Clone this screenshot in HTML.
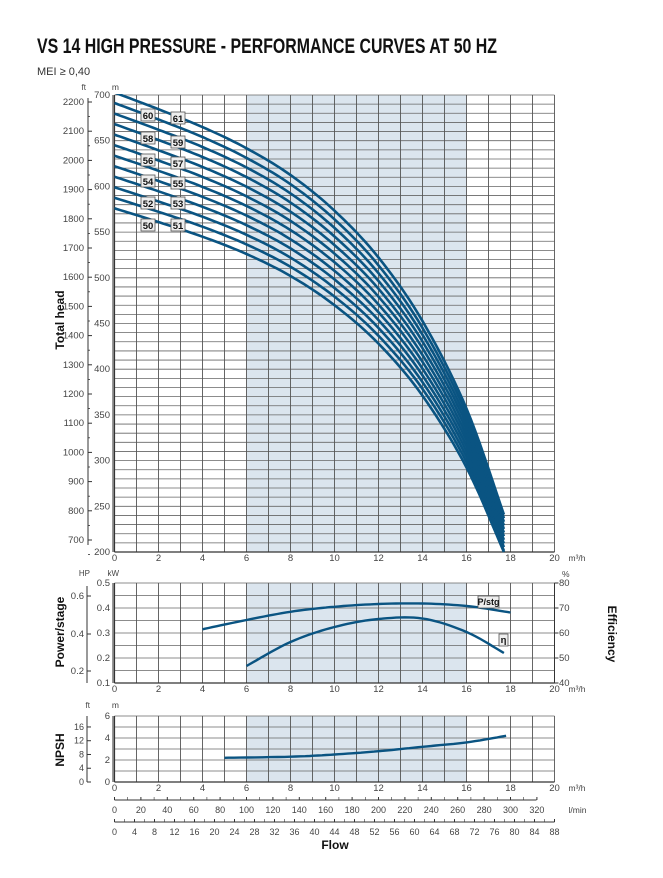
<!DOCTYPE html><html><head><style>body{margin:0;background:#fff}svg{display:block}text{font-family:"Liberation Sans",sans-serif}</style></head><body>
<svg id="s" width="663" height="878" viewBox="0 0 663 878" xmlns="http://www.w3.org/2000/svg">
<text x="37" y="53" font-size="21" font-weight="bold" textLength="460" lengthAdjust="spacingAndGlyphs" fill="#111">VS 14 HIGH PRESSURE - PERFORMANCE CURVES AT 50 HZ</text>
<text x="37" y="75" font-size="11" fill="#333">MEI ≥ 0,40</text>
<g id="g"></g>
</svg>
<script>
const g=document.getElementById('g');let h='';
const X=q=>114.5+q*22;
function ln(x1,y1,x2,y2,c,w){h+=`<line x1="${x1}" y1="${y1}" x2="${x2}" y2="${y2}" stroke="${c}" stroke-width="${w}"/>`}
function tx(x,y,t,s,a,c,extra){h+=`<text x="${x}" y="${y}" font-size="${s||9}" text-anchor="${a||'middle'}" fill="${c||'#444'}" ${extra||''}>${t}</text>`}
function cr(pts){let d=`M${pts[0][0].toFixed(1)},${pts[0][1].toFixed(1)}`;for(let i=0;i<pts.length-1;i++){const p0=pts[i-1]||pts[i],p1=pts[i],p2=pts[i+1],p3=pts[i+2]||p2;for(let t=0.1;t<=1.001;t+=0.1){const t2=t*t,t3=t2*t;const f=k=>0.5*((2*p1[k])+(-p0[k]+p2[k])*t+(2*p0[k]-5*p1[k]+4*p2[k]-p3[k])*t2+(-p0[k]+3*p1[k]-3*p2[k]+p3[k])*t3);d+=`L${f(0).toFixed(1)},${f(1).toFixed(1)}`}}return d}
function panel(y0,y1,hl){h+=`<rect x="${X(6)}" y="${y0}" width="220" height="${y1-y0}" fill="#dbe5ee"/>`;hl.forEach(y=>ln(X(0),y,X(20),y,'#666',0.8));for(let i=0;i<=20;i++)ln(X(i),y0,X(i),y1,'#555',0.9);ln(X(0),y1,X(20),y1,'#333',1.2);ln(X(0),y0,X(0),y1,'#333',1.2);for(let i=0;i<=20;i+=2)tx(X(i),y1+9,i,9.5);tx(X(20)+14,y1+9,'m³/h',8.5,'start')}
// main
const MY=m=>95+(700-m)*0.914;let hl=[];for(let m=200;m<=700;m+=10)hl.push(MY(m));panel(95,552,hl);
for(let m=200;m<=700;m+=50){tx(110,MY(m)+3,m,9.5,'end')}
ln(113,95,113,552,'#333',1);tx(119,90,'m',8.5,'end');
ln(88,98,88,545,'#333',1);tx(86,90,'ft',8,'end');
for(let f=2200,y=102;f>=700;f-=100,y+=29.2){tx(84,y+3,f,9.5,'end');ln(88,y,92,y,'#333',1);ln(88,y+14.6,90,y+14.6,'#333',0.8)}
const hq=[[0,11.52],[2,11.22],[4,10.9],[6,10.52],[8,10.04],[10,9.40],[12,8.56],[14,7.42],[16,5.85],[17.7,3.95]];
for(let n=50;n<=61;n++){let pts=hq.map(([q,v])=>[X(q),Math.min(552,MY(Math.min(v*n,703)))]);if(n*11.52>703)pts[0]=[X(0.45),MY(703)];h+=`<path d="${cr(pts)}" fill="none" stroke="#0a5482" stroke-width="2.6" clip-path="url(#c)"/>`}
h+=`<clipPath id="c"><rect x="114" y="94" width="441" height="458.5"/></clipPath>`;
[[60,148,115],[61,178,118],[58,148,138],[59,178,142],[56,148,160],[57,178,163],[54,148,181],[55,178,183],[52,148,203],[53,178,203],[50,148,225],[51,178,225]].forEach(([n,x,y])=>{h+=`<rect x="${x-7}" y="${y-6}" width="14" height="12" fill="#eee" stroke="#555" stroke-width="0.8"/>`;tx(x,y+4,n,9.5,'middle','#111','font-weight="bold"')});
tx(0,0,'Total head',12,'middle','#111','font-weight="bold" transform="translate(64,320) rotate(-90)"');
// power
const PY=k=>683-(k-0.1)*250;hl=[];for(let k=0.1;k<=0.501;k+=0.05)hl.push(PY(k));panel(583,683,hl);
for(let k=1;k<=5;k++)tx(110,PY(k/10)+3,'0.'+k,9.5,'end');ln(113,583,113,683,'#333',1);tx(119,576,'kW',8,'end');
ln(87,586,87,683,'#333',1);tx(90,576,'HP',8,'end');[[0.6,596],[0.4,634],[0.2,671]].forEach(([v,y])=>{tx(84,y+3,v,9.5,'end');ln(87,y,91,y,'#333',1)});
const EY=e=>583+(80-e)*2.5;ln(X(20),583,X(20),683,'#333',1);for(let e=40;e<=80;e+=10){tx(559,EY(e)+3,e,9.5,'start');ln(X(20),EY(e),X(20)+4,EY(e),'#333',1)}tx(562,577,'%',8.5,'start');
h+=`<path d="${cr([[4,0.315],[6,0.352],[8,0.385],[10,0.405],[12,0.416],[14,0.418],[16,0.408],[18,0.382]].map(([q,k])=>[X(q),PY(k)]))}" fill="none" stroke="#0a5482" stroke-width="2.4"/>`;
h+=`<path d="${cr([[6,46.8],[8,56.4],[10,62.4],[12,65.6],[14,65.8],[16,60.4],[17.7,52]].map(([q,e])=>[X(q),EY(e)]))}" fill="none" stroke="#0a5482" stroke-width="2.4"/>`;
h+=`<rect x="478" y="596" width="21" height="12" fill="#eee" stroke="#555" stroke-width="0.8"/>`;tx(488.5,605,'P/stg',9,'middle','#111','font-weight="bold"');
h+=`<rect x="499" y="634" width="9" height="12" fill="#eee" stroke="#555" stroke-width="0.8"/>`;tx(503.5,643,'η',9.5,'middle','#111','font-weight="bold"');
tx(0,0,'Power/stage',12,'middle','#111','font-weight="bold" transform="translate(64,632) rotate(-90)"');
tx(0,0,'Efficiency',12,'middle','#111','font-weight="bold" transform="translate(608,634) rotate(90)"');
// npsh
const NY=m=>782-m*11;hl=[];for(let m=0;m<=6;m++)hl.push(NY(m));panel(716,782,hl);
for(let m=0;m<=6;m+=2)tx(110,NY(m)+3,m,9.5,'end');ln(113,716,113,782,'#333',1);tx(119,708,'m',8.5,'end');
ln(87,716,87,782,'#333',1);tx(90,708,'ft',8,'end');for(let f=0;f<=16;f+=4){const y=782-f*3.44;tx(84,y+3,f,9,'end');ln(87,y,91,y,'#333',1)}
h+=`<path d="${cr([[5,2.2],[8,2.3],[10,2.5],[12,2.8],[14,3.2],[16,3.6],[17.8,4.2]].map(([q,m])=>[X(q),NY(m)]))}" fill="none" stroke="#0a5482" stroke-width="2.4"/>`;
tx(0,0,'NPSH',12,'middle','#111','font-weight="bold" transform="translate(64,750) rotate(-90)"');
// flow axes
ln(X(0),800,X(20)-18,800,'#333',1);for(let l=0;l<=320;l+=10){const x=X(0)+l*1.32;ln(x,797,x,800,'#333',l%20?0.6:1);if(l%20==0)tx(x,813,l,9)}tx(X(20)+14,813,'l/min',8.5,'start');
ln(X(0),822,X(20),822,'#333',1);for(let u=0;u<=88;u+=2){const x=X(0)+u*5;ln(x,819,x,822,'#333',u%4?0.6:1);if(u%4==0)tx(x,835,u,9)}
tx(335,849,'Flow',12,'middle','#111','font-weight="bold"');
g.innerHTML=h;
</script>
</body></html>
